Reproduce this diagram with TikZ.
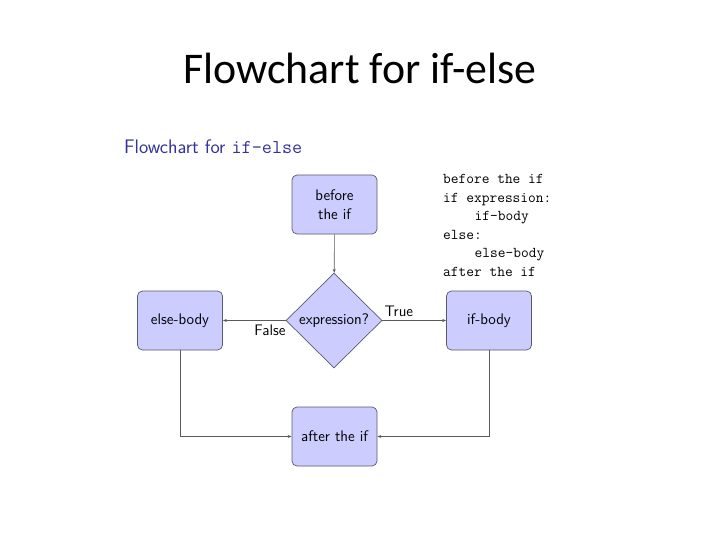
\documentclass[tikz,border=0pt]{standalone}
\usepackage{fontspec}
\newfontfamily\titlefont{Carlito}
\usetikzlibrary{shapes.geometric,arrows.meta}
\definecolor{boxfill}{RGB}{204,204,255}
\definecolor{boxdraw}{RGB}{90,90,110}
\definecolor{linecol}{RGB}{90,90,90}
\definecolor{structcol}{RGB}{51,51,153}
\begin{document}
\begin{tikzpicture}[x=1pt,y=-1pt,
  blockbox/.style={draw=boxdraw,fill=boxfill,rounded corners=5pt,minimum width=85pt,minimum height=59pt,inner sep=0pt,font=\sffamily\fontsize{15.3}{18.5}\selectfont,align=center,line width=0.7pt},
  decision/.style={draw=boxdraw,fill=boxfill,diamond,minimum width=96pt,minimum height=95pt,inner sep=0pt,font=\sffamily\fontsize{15.3}{18.5}\selectfont,line width=0.7pt},
  conn/.style={draw=linecol,line width=0.6pt,-{Stealth[length=4pt,width=3pt]}},
  lbl/.style={font=\sffamily\fontsize{15.3}{18.5}\selectfont,inner sep=1pt}]
\useasboundingbox (0,0) rectangle (720,540);
\node[font=\titlefont\fontsize{43.8}{52}\selectfont] (title) at (360,68) {Flowchart for if-else};
\node[anchor=west,text=structcol,font=\sffamily\fontsize{19.6}{23}\selectfont,inner sep=0pt] (sub) at (124,147) {Flowchart for \texttt{if-else}};
\node[blockbox] (before) at (334.5,204.5) {before\\the if};
\node[decision] (expr) at (334,320.5) {expression?};
\node[blockbox] (else) at (180,320.5) {else-body};
\node[blockbox] (ifb) at (489,320.5) {if-body};
\node[blockbox] (after) at (334.5,436.5) {after the if};
\node[anchor=north west,inner sep=0pt,font=\ttfamily\fontsize{15}{18.6}\selectfont,align=left] (code) at (443,174) {before the if\\if expression:\\\hspace*{2.1em}if-body\\else:\\\hspace*{2.1em}else-body\\after the if};
\draw[conn] (before) -- (expr);
\draw[conn] (expr) -- node[lbl,below,pos=0.25,yshift=-3pt] (flbl) {False} (else);
\draw[conn] (expr) -- node[lbl,above,pos=0.26,yshift=3pt] (tlbl) {True} (ifb);
\draw[conn] (else.south) |- (after.west);
\draw[conn] (ifb.south) |- (after.east);
\end{tikzpicture}
\end{document}
